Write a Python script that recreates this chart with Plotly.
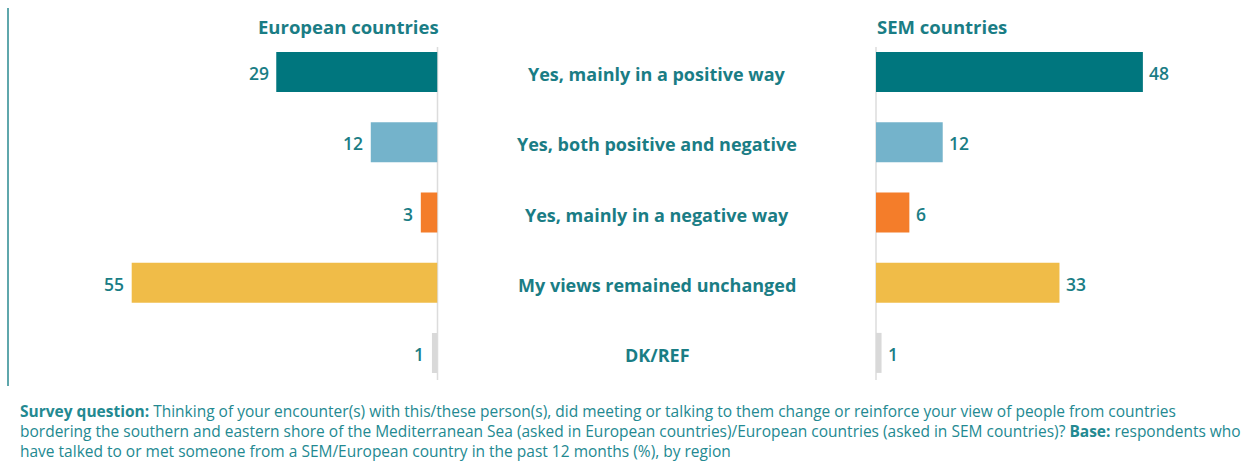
import plotly.graph_objects as go

categories = ["Yes, mainly in a positive way", "Yes, both positive and negative",
              "Yes, mainly in a negative way", "My views remained unchanged", "DK/REF"]
european = [29, 12, 3, 55, 1]
sem = [48, 12, 6, 33, 1]
colors = ["#00767E", "#74B3CB", "#F47D2A", "#F0BC48", "#D9D9D9"]

W, H = 1245, 467
TEAL = "#1A7D85"
FONT = "Open Sans"

def px(x):
    return x / W

def py(y):
    return 1 - y / H

scale = 5.56  # px per unit
left_zero, left_start = 437.5, 100
right_zero, right_end = 876, 1200

fig = go.Figure()
fig.add_trace(go.Bar(
    y=categories, x=european, orientation="h", xaxis="x", yaxis="y",
    marker=dict(color=colors, line=dict(width=0)), width=0.57,
    hoverinfo="skip"))
fig.add_trace(go.Bar(
    y=categories, x=sem, orientation="h", xaxis="x2", yaxis="y",
    marker=dict(color=colors, line=dict(width=0)), width=0.57,
    hoverinfo="skip"))

fig.update_layout(
    width=W, height=H, margin=dict(l=0, r=0, t=0, b=0),
    paper_bgcolor="white", plot_bgcolor="white", showlegend=False,
    font=dict(family=FONT, color=TEAL),
    xaxis=dict(domain=[px(left_start), px(left_zero)],
               range=[(left_zero - left_start) / scale, 0],
               visible=False, fixedrange=True),
    xaxis2=dict(domain=[px(right_zero), px(right_end)],
                range=[0, (right_end - right_zero) / scale],
                visible=False, fixedrange=True),
    yaxis=dict(domain=[py(388), py(37)], range=[4.5, -0.5],
               categoryorder="array", categoryarray=categories,
               visible=False, fixedrange=True),
)

# value labels
for c, v in zip(categories, european):
    fig.add_annotation(x=v, xref="x", y=c, yref="y", text=str(v), showarrow=False,
                       xanchor="right", yanchor="middle", xshift=-5.5, yshift=-1,
                       font=dict(family=FONT, size=17.5, color=TEAL, weight=600))
for c, v in zip(categories, sem):
    fig.add_annotation(x=v, xref="x2", y=c, yref="y", text=str(v), showarrow=False,
                       xanchor="left", yanchor="middle", xshift=4.5, yshift=-1,
                       font=dict(family=FONT, size=17.5, color=TEAL, weight=600))

# zero lines
for xz in (left_zero, right_zero):
    fig.add_shape(type="line", xref="paper", yref="paper",
                  x0=px(xz), x1=px(xz), y0=py(47), y1=py(380),
                  line=dict(color="#DCDCDC", width=1.5), layer="below")
# left accent line
fig.add_shape(type="line", xref="paper", yref="paper",
              x0=px(8), x1=px(8), y0=py(8), y1=py(386),
              line=dict(color="#2A8A90", width=1.5))

# category labels
for c in categories:
    fig.add_annotation(x=px(657), xref="paper", y=c, yref="y", text=c,
                       showarrow=False, xanchor="center", yanchor="middle", yshift=-2,
                       font=dict(family=FONT, size=18, color=TEAL, weight="bold"))

# panel titles
fig.add_annotation(x=px(441), xref="paper", y=py(27), yref="paper",
                   text="<b>European countries</b>", showarrow=False,
                   xanchor="right", yanchor="middle",
                   font=dict(family=FONT, size=18.5, color=TEAL))
fig.add_annotation(x=px(875), xref="paper", y=py(27), yref="paper",
                   text="<b>SEM countries</b>", showarrow=False,
                   xanchor="left", yanchor="middle",
                   font=dict(family=FONT, size=18.5, color=TEAL))

# footnote
foot_lines = [
    "<b>Survey question:</b> Thinking of your encounter(s) with this/these person(s), did meeting or talking to them change or reinforce your view of people from countries",
    "bordering the southern and eastern shore of the Mediterranean Sea (asked in European countries)/European countries (asked in SEM countries)? <b>Base:</b> respondents who",
    "have talked to or met someone from a SEM/European country in the past 12 months (%), by region",
]
fig.add_annotation(x=px(18), xref="paper", y=py(398), yref="paper",
                   text="<br>".join(foot_lines), showarrow=False,
                   xanchor="left", yanchor="top", align="left",
                   font=dict(family=FONT, size=15.5, color="#238991"))

fig.write_html("out.html", config={"displayModeBar": False},
               post_script="document.body.style.margin='0';document.body.style.overflow='hidden';")
